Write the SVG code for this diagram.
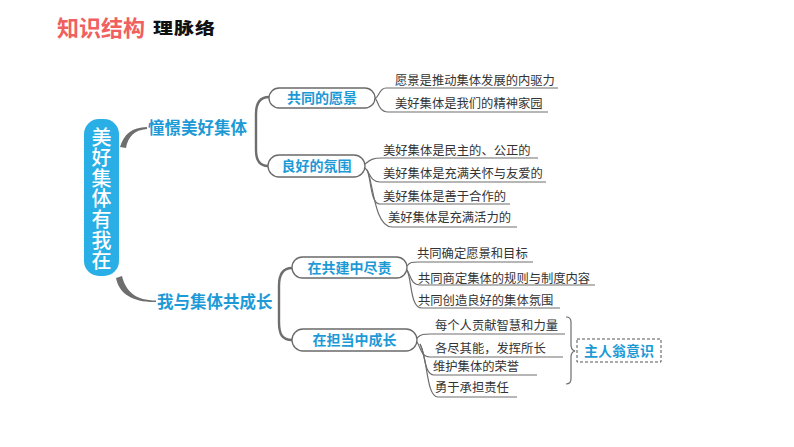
<svg xmlns="http://www.w3.org/2000/svg" width="794" height="447" viewBox="0 0 794 447">
<style>
.blue{font-family:"Noto Sans CJK SC","Noto Sans",sans-serif;font-weight:700;fill:#1d9ad6}
.leaf{font-family:"Noto Sans CJK SC","Noto Sans",sans-serif;font-weight:400;font-size:12.3px;fill:#333}
.box{fill:#fff;stroke:#6a6a6a;stroke-width:1.3}
.ln{fill:none;stroke:#6e6e6e;stroke-width:1.2}
.br{fill:none;stroke:#6e6e6e;stroke-width:2.4;stroke-linecap:round}
.tap{fill:#6e6e6e}
.btxt{font-size:14px;text-anchor:middle}
</style>
<rect width="794" height="447" fill="#fff"/>
<g id="title">
<text x="57" y="36" font-family="Noto Sans CJK SC,sans-serif" font-weight="700" font-size="22" fill="#f0605f">知识结构</text>
<text transform="translate(153,34) scale(1,0.8)" font-family="Noto Sans CJK SC,sans-serif" font-weight="900" font-size="20" fill="#111" letter-spacing="1">理脉络</text>
</g>
<g id="connectors">
<path class="tap" d="M120,147 C124,134 132,127.5 147,127 L147,129 C134,130 128,137 126,148 Z"/>
<path class="tap" d="M116,278 C119,294 133,302.5 156,302 L156,300.5 C136,300.5 126,292 122,276 Z"/>
<path class="br" d="M269,97 C259,97 256,104 256,114 L256,150 C256,160 259,166 268,166"/>
<path class="br" d="M292,268 C282,268 279,276 279,286 L279,322 C279,334 282,340 292,340"/>
<path class="ln" d="M375,98 C379,98 379,88 386,88 L558,88"/>
<path class="ln" d="M375,98 C378,100 378,112 388,112 L548,112"/>
<path class="ln" d="M365,164 C370,160 372,158 382,158 L538,158"/>
<path class="ln" d="M365,168 C370,172 370,182 380,182 L546,182"/>
<path class="ln" d="M367,170 C371,176 370,204 380,204 L510,204"/>
<path class="ln" d="M367,170 C373,180 374,227 392,227 L517,227"/>
<path class="ln" d="M407,266 C410,262 412,262 418,262 L533,262"/>
<path class="ln" d="M407,270 C411,276 411,285 420,285 L595,285"/>
<path class="ln" d="M407,270 C412,280 410,308 422,308 L560,308"/>
<path class="ln" d="M417,338 C421,334 424,334 430,334 L565,334"/>
<path class="ln" d="M417,342 C421,348 421,357 430,357 L563,357"/>
<path class="ln" d="M420,344 C425,352 424,375 434,375 L537,375"/>
<path class="ln" d="M420,344 C428,358 426,397 438,397 L517,397"/>
<path class="ln" d="M566,317 Q571,317 571,322 L571,345 Q571,350 575,351 Q571,352 571,357 L571,379 Q571,384 566,384"/>
</g>
<g id="root">
<rect x="84" y="119" width="35" height="157" rx="15" fill="#29afe6"/>
<text x="101.5" y="127" writing-mode="vertical-rl" font-family="Noto Sans CJK SC,sans-serif" font-weight="500" font-size="20" letter-spacing="0.6" fill="#fff">美好集体有我在</text>
</g>
<g id="n1"><text class="blue" x="148" y="134" font-size="16.5">憧憬美好集体</text></g>
<g id="n2"><text class="blue" x="157" y="308" font-size="16.5">我与集体共成长</text></g>
<g id="n11"><rect class="box" x="269" y="88" width="106" height="20" rx="10"/><text class="blue btxt" x="322" y="103">共同的愿景</text></g>
<g id="n12"><rect class="box" x="268" y="155" width="97" height="22" rx="11"/><text class="blue btxt" x="316.5" y="171">良好的氛围</text></g>
<g id="n21"><rect class="box" x="292" y="257" width="115" height="21" rx="10.5"/><text class="blue btxt" x="349.5" y="272.5">在共建中尽责</text></g>
<g id="n22"><rect class="box" x="292" y="329" width="125" height="22" rx="11"/><text class="blue btxt" x="354.5" y="345">在担当中成长</text></g>
<g id="leaves">
<text class="leaf" x="395" y="84.5">愿景是推动集体发展的内驱力</text>
<text class="leaf" x="395" y="107.5">美好集体是我们的精神家园</text>
<text class="leaf" x="383" y="154.5">美好集体是民主的、公正的</text>
<text class="leaf" x="383" y="177.5">美好集体是充满关怀与友爱的</text>
<text class="leaf" x="383" y="200.5">美好集体是善于合作的</text>
<text class="leaf" x="388" y="221.5">美好集体是充满活力的</text>
<text class="leaf" x="417" y="257.5">共同确定愿景和目标</text>
<text class="leaf" x="418" y="282.5">共同商定集体的规则与制度内容</text>
<text class="leaf" x="418" y="304.5">共同创造良好的集体氛围</text>
<text class="leaf" x="435" y="329.5">每个人贡献智慧和力量</text>
<text class="leaf" x="435" y="352.5">各尽其能，发挥所长</text>
<text class="leaf" x="433" y="370.5">维护集体的荣誉</text>
<text class="leaf" x="435" y="391.5">勇于承担责任</text>
</g>
<g id="n3"><rect x="577" y="339" width="84" height="23" fill="none" stroke="#555" stroke-width="1" stroke-dasharray="3,2"/><text class="blue btxt" x="619" y="356">主人翁意识</text></g>
</svg>
